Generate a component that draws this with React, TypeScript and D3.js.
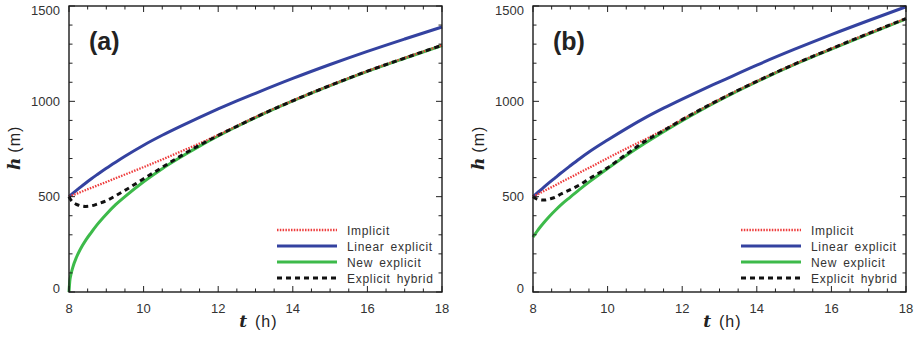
import React, { useRef, useEffect } from 'react';
import * as d3 from 'd3';

// time grid (h), shared by all curves
const times = [8, 8.02, 8.05, 8.1, 8.2, 8.3, 8.45, 8.6, 8.75, 9, 9.25, 9.5, 10, 10.5, 11, 11.5, 12, 12.5, 13, 14, 15, 16, 17, 18];

// panel (a)
const implicitA = [500, 502, 504, 508, 515, 523, 535, 546, 558, 577, 597, 616, 655, 695, 737, 779, 824, 871, 918, 1004, 1084, 1159, 1228, 1295];
const linearA = [500, 503, 509, 517, 533, 549, 572, 594, 615, 649, 681, 712, 770, 822, 870, 916, 960, 1002, 1042, 1120, 1193, 1262, 1327, 1390];
const newA = [0, 55, 90, 128, 182, 223, 272, 313, 352, 408, 458, 500, 578, 647, 708, 765, 818, 868, 915, 1002, 1082, 1157, 1226, 1293];
const hybridA = [500, 492, 483, 472, 460, 453, 449, 452, 461, 479, 505, 533, 594, 654, 714, 770, 821, 869, 916, 1003, 1083, 1158, 1227, 1294];

// panel (b)
const implicitB = [500, 502, 505, 510, 520, 530, 545, 560, 576, 601, 626, 651, 702, 752, 800, 850, 905, 958, 1010, 1106, 1195, 1277, 1357, 1435];
const linearB = [500, 503, 508, 517, 534, 551, 576, 600, 624, 662, 699, 734, 797, 857, 913, 964, 1012, 1058, 1102, 1190, 1272, 1350, 1424, 1496];
const newB = [288, 294, 302, 316, 342, 366, 399, 429, 457, 498, 538, 576, 648, 716, 780, 841, 899, 954, 1006, 1103, 1192, 1274, 1354, 1432];
const hybridB = [500, 497, 493, 488, 483, 482, 488, 497, 514, 537, 562, 593, 652, 722, 790, 846, 904, 958, 1009, 1105, 1194, 1276, 1356, 1434];

const legendNames = ['Implicit', 'Linear explicit', 'New explicit', 'Explicit hybrid'];
const xMajor = [8, 10, 12, 14, 16, 18];
const yMajor = [0, 500, 1000, 1500];

const styles = [
  { color: '#ee3d3d', width: 2.3, dash: '1.5,1.3' },
  { color: '#3442a0', width: 3, dash: null },
  { color: '#3dba4a', width: 3, dash: null },
  { color: '#111111', width: 3, dash: '5,4' },
];
// draw order: linear, new, implicit, hybrid
const drawOrder = [1, 2, 0, 3];

const TOP = 6;
const BOTTOM = 292;
const PW = 373;
const sans = 'Liberation Sans, Arial, sans-serif';
const serif = 'DejaVu Serif, Liberation Serif, serif';

const Panel = ({ x0, label, series }) => {
  const gRef = useRef();

  useEffect(() => {
    const g = d3.select(gRef.current);
    g.selectAll('*').remove();

    const xScale = d3.scaleLinear().domain([8, 18]).range([x0, x0 + PW]);
    const yScale = d3.scaleLinear().domain([0, 1500]).range([BOTTOM, TOP]);

    const line = d3.line()
      .x((d) => xScale(d[0]))
      .y((d) => yScale(d[1]))
      .curve(d3.curveMonotoneX);

    drawOrder.forEach((i) => {
      const s = styles[i];
      const pts = times.map((t, k) => [t, series[i][k]]);
      g.append('path')
        .attr('d', line(pts))
        .attr('fill', 'none')
        .attr('stroke', s.color)
        .attr('stroke-width', s.width)
        .attr('stroke-dasharray', s.dash)
        .attr('stroke-linejoin', 'round');
    });

    // ticks, inward on all four sides
    const tickStroke = '#222';
    d3.range(8, 18.01, 0.5).forEach((t) => {
      const len = xMajor.includes(t) ? 6 : 3.5;
      const x = xScale(t);
      g.append('line').attr('x1', x).attr('x2', x).attr('y1', BOTTOM).attr('y2', BOTTOM - len)
        .attr('stroke', tickStroke).attr('stroke-width', 1);
      g.append('line').attr('x1', x).attr('x2', x).attr('y1', TOP).attr('y2', TOP + len)
        .attr('stroke', tickStroke).attr('stroke-width', 1);
    });
    d3.range(0, 1501, 100).forEach((v) => {
      const len = yMajor.includes(v) ? 6 : 3.5;
      const y = yScale(v);
      g.append('line').attr('x1', x0).attr('x2', x0 + len).attr('y1', y).attr('y2', y)
        .attr('stroke', tickStroke).attr('stroke-width', 1);
      g.append('line').attr('x1', x0 + PW).attr('x2', x0 + PW - len).attr('y1', y).attr('y2', y)
        .attr('stroke', tickStroke).attr('stroke-width', 1);
    });

    g.append('rect')
      .attr('x', x0).attr('y', TOP)
      .attr('width', PW).attr('height', BOTTOM - TOP)
      .attr('fill', 'none')
      .attr('stroke', '#1a1a1a')
      .attr('stroke-width', 1.4);

    // tick labels
    xMajor.forEach((t) => {
      g.append('text')
        .attr('x', xScale(t)).attr('y', 312.5)
        .attr('text-anchor', 'middle')
        .attr('font-family', sans).attr('font-size', 13)
        .attr('fill', '#333')
        .text(t);
    });
    yMajor.forEach((v) => {
      const y = Math.min(Math.max(yScale(v), TOP + 4), BOTTOM - 4);
      g.append('text')
        .attr('x', x0 - 9).attr('y', y + 4.5)
        .attr('text-anchor', 'end')
        .attr('font-family', sans).attr('font-size', 13)
        .attr('fill', '#333')
        .text(v);
    });

    // axis titles
    g.append('text')
      .attr('x', x0 + 178).attr('y', 327)
      .attr('text-anchor', 'end')
      .attr('font-family', serif).attr('font-style', 'italic').attr('font-weight', 'bold')
      .attr('font-size', 17).attr('fill', '#222')
      .text('t');
    g.append('text')
      .attr('x', x0 + 186).attr('y', 327)
      .attr('font-family', sans).attr('font-size', 16).attr('fill', '#222')
      .attr('letter-spacing', 1)
      .text('(h)');

    const yt = g.append('text')
      .attr('transform', `translate(${x0 - 49},0) rotate(-90)`)
      .attr('x', -170).attr('y', 0)
      .attr('fill', '#222');
    yt.append('tspan')
      .attr('font-family', serif).attr('font-style', 'italic').attr('font-weight', 'bold')
      .attr('font-size', 17)
      .text('h');
    yt.append('tspan')
      .attr('dx', 5)
      .attr('font-family', sans).attr('font-size', 16)
      .attr('letter-spacing', 1)
      .text('(m)');

    // panel label
    g.append('text')
      .attr('x', x0 + 20).attr('y', 50)
      .attr('font-family', sans).attr('font-weight', 'bold').attr('font-size', 25)
      .attr('fill', '#222')
      .text(label);

    // legend
    legendNames.forEach((name, i) => {
      const s = styles[i];
      const y = 230 + 16 * i;
      g.append('line')
        .attr('x1', x0 + 208).attr('x2', x0 + 268)
        .attr('y1', y).attr('y2', y)
        .attr('stroke', s.color)
        .attr('stroke-width', s.width)
        .attr('stroke-dasharray', s.dash);
      g.append('text')
        .attr('x', x0 + 278).attr('y', y + 4.5)
        .attr('font-family', sans).attr('font-size', 12)
        .attr('letter-spacing', 0.7).attr('word-spacing', 2)
        .attr('fill', '#333')
        .text(name);
    });
  }, [x0, label, series]);

  return <g ref={gRef}></g>;
};

const seriesA = [implicitA, linearA, newA, hybridA];
const seriesB = [implicitB, linearB, newB, hybridB];

export default function App() {
  return (
    <div style={{ position: 'absolute', left: 0, top: 0 }}>
      <svg width={916} height={344} style={{ display: 'block', background: '#fff' }}>
        <Panel x0={69} label="(a)" series={seriesA} />
        <Panel x0={533} label="(b)" series={seriesB} />
      </svg>
    </div>
  );
}
